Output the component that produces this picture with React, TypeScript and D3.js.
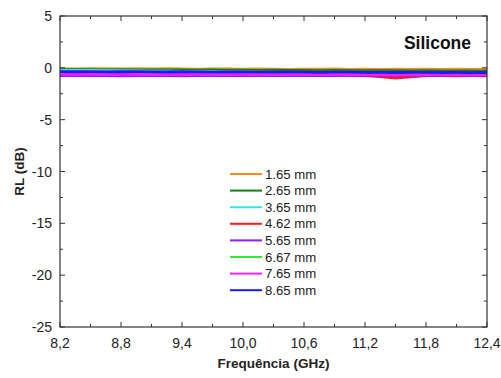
import React, { useEffect, useRef } from 'react';
import * as d3 from 'd3';

// frequency samples (GHz)
const freq = [8.2, 8.35, 8.5, 8.65, 8.8, 8.95, 9.1, 9.25, 9.4, 9.55, 9.7, 9.85, 10.0, 10.15, 10.3, 10.45, 10.6, 10.75, 10.9, 11.05, 11.2, 11.35, 11.5, 11.65, 11.8, 11.95, 12.1, 12.25, 12.4];

const labels = ['1.65 mm', '2.65 mm', '3.65 mm', '4.62 mm', '5.65 mm', '6.67 mm', '7.65 mm', '8.65 mm'];
const colors = ['#ff8c1a', '#1a7f1a', '#33e6e6', '#ff1a1a', '#8c1aff', '#33e633', '#ff1aff', '#1a1aff'];

const rl165 = [-0.08, -0.1, -0.07, -0.09, -0.1, -0.08, -0.11, -0.09, -0.1, -0.12, -0.1, -0.11, -0.13, -0.1, -0.12, -0.14, -0.12, -0.13, -0.11, -0.14, -0.12, -0.15, -0.13, -0.14, -0.12, -0.15, -0.13, -0.14, -0.12];
const rl265 = [-0.16, -0.18, -0.17, -0.19, -0.18, -0.2, -0.19, -0.21, -0.2, -0.22, -0.21, -0.23, -0.22, -0.24, -0.23, -0.25, -0.24, -0.26, -0.25, -0.27, -0.26, -0.28, -0.27, -0.29, -0.28, -0.3, -0.29, -0.3, -0.31];
const rl365 = [-0.22, -0.24, -0.25, -0.27, -0.28, -0.3, -0.31, -0.33, -0.34, -0.36, -0.37, -0.39, -0.4, -0.42, -0.43, -0.45, -0.46, -0.48, -0.49, -0.51, -0.53, -0.62, -0.78, -0.64, -0.58, -0.6, -0.62, -0.63, -0.65];
const rl462 = [-0.6, -0.61, -0.63, -0.62, -0.64, -0.65, -0.64, -0.66, -0.67, -0.66, -0.68, -0.69, -0.68, -0.7, -0.71, -0.7, -0.72, -0.71, -0.73, -0.74, -0.76, -0.85, -1.0, -0.86, -0.76, -0.75, -0.77, -0.76, -0.78];
const rl565 = [-0.74, -0.76, -0.73, -0.75, -0.77, -0.74, -0.76, -0.75, -0.77, -0.74, -0.76, -0.75, -0.74, -0.76, -0.73, -0.75, -0.74, -0.72, -0.74, -0.73, -0.71, -0.73, -0.72, -0.7, -0.72, -0.71, -0.7, -0.72, -0.7];
const rl667 = [-0.55, -0.56, -0.54, -0.57, -0.55, -0.56, -0.58, -0.56, -0.57, -0.55, -0.58, -0.57, -0.56, -0.58, -0.57, -0.59, -0.58, -0.56, -0.59, -0.58, -0.6, -0.59, -0.61, -0.6, -0.59, -0.61, -0.6, -0.62, -0.6];
const rl765 = [-0.62, -0.63, -0.61, -0.64, -0.62, -0.63, -0.65, -0.63, -0.64, -0.62, -0.65, -0.64, -0.63, -0.65, -0.64, -0.66, -0.65, -0.63, -0.66, -0.65, -0.64, -0.66, -0.65, -0.64, -0.66, -0.65, -0.64, -0.66, -0.65];
const rl865 = [-0.36, -0.38, -0.37, -0.39, -0.38, -0.37, -0.39, -0.4, -0.38, -0.39, -0.41, -0.4, -0.39, -0.41, -0.42, -0.4, -0.41, -0.43, -0.42, -0.41, -0.43, -0.44, -0.45, -0.43, -0.44, -0.45, -0.44, -0.46, -0.45];

const series = [rl165, rl265, rl365, rl462, rl565, rl667, rl765, rl865];

const xTicks = [8.2, 8.8, 9.4, 10.0, 10.6, 11.2, 11.8, 12.4];
const yTicks = [5, 0, -5, -10, -15, -20, -25];

const App: React.FC = () => {
  const svgRef = useRef<SVGSVGElement>(null);

  useEffect(() => {
    if (!svgRef.current) return;
    const root = d3.select(svgRef.current);
    root.selectAll('*').remove();

    const margin = { top: 16, right: 14, bottom: 51, left: 60 };
    const W = 501, H = 378;
    const width = W - margin.left - margin.right;
    const height = H - margin.top - margin.bottom;
    const font = '"Liberation Sans", Arial, sans-serif';

    const svg = root.append('g').attr('transform', `translate(${margin.left},${margin.top})`);

    const x = d3.scaleLinear().domain([8.2, 12.4]).range([0, width]);
    const y = d3.scaleLinear().domain([-25, 5]).range([height, 0]);

    // series
    const line = d3.line<number>()
      .x((_, i) => x(freq[i]))
      .y(d => y(d));

    series.forEach((s, i) => {
      svg.append('path')
        .datum(s)
        .attr('fill', 'none')
        .attr('stroke', colors[i])
        .attr('stroke-width', 2.8)
        .attr('d', line);
    });

    // frame
    svg.append('rect')
      .attr('width', width)
      .attr('height', height)
      .attr('fill', 'none')
      .attr('stroke', '#333')
      .attr('stroke-width', 1.2);

    const xMinor = d3.range(0, 15).map(i => 8.2 + i * 0.3);
    const yMinor = d3.range(0, 13).map(i => -25 + i * 2.5);

    // ticks on all four sides, pointing in
    xMinor.forEach((v, i) => {
      const len = i % 2 === 0 ? 5 : 3;
      svg.append('line').attr('x1', x(v)).attr('x2', x(v)).attr('y1', height).attr('y2', height - len).attr('stroke', '#333');
      svg.append('line').attr('x1', x(v)).attr('x2', x(v)).attr('y1', 0).attr('y2', len).attr('stroke', '#333');
    });
    yMinor.forEach((v, i) => {
      const len = i % 2 === 0 ? 5 : 3;
      svg.append('line').attr('y1', y(v)).attr('y2', y(v)).attr('x1', 0).attr('x2', len).attr('stroke', '#333');
      svg.append('line').attr('y1', y(v)).attr('y2', y(v)).attr('x1', width).attr('x2', width - len).attr('stroke', '#333');
    });

    svg.selectAll('.xl')
      .data(xTicks)
      .enter()
      .append('text')
      .attr('x', d => x(d))
      .attr('y', height + 21)
      .attr('text-anchor', 'middle')
      .attr('font-family', font)
      .attr('font-size', 14)
      .attr('fill', '#222')
      .text(d => d.toFixed(1).replace('.', ','));

    svg.selectAll('.yl')
      .data(yTicks)
      .enter()
      .append('text')
      .attr('x', -8)
      .attr('y', d => y(d) + 5)
      .attr('text-anchor', 'end')
      .attr('font-family', font)
      .attr('font-size', 14)
      .attr('fill', '#222')
      .text(d => String(d));

    // axis titles
    svg.append('text')
      .attr('x', width / 2)
      .attr('y', height + 41)
      .attr('text-anchor', 'middle')
      .attr('font-family', font)
      .attr('font-size', 13.5)
      .attr('font-weight', 'bold')
      .attr('fill', '#222')
      .text('Frequência (GHz)');

    svg.append('text')
      .attr('transform', `translate(${-36},${height / 2}) rotate(-90)`)
      .attr('text-anchor', 'middle')
      .attr('font-family', font)
      .attr('font-size', 13.5)
      .attr('font-weight', 'bold')
      .attr('fill', '#222')
      .text('RL (dB)');

    svg.append('text')
      .attr('x', width - 16)
      .attr('y', 33)
      .attr('text-anchor', 'end')
      .attr('font-family', font)
      .attr('font-size', 17.5)
      .attr('font-weight', 'bold')
      .attr('fill', '#111')
      .text('Silicone');

    // legend
    const legend = svg.append('g').attr('transform', `translate(${230 - margin.left},${174 - margin.top})`);
    labels.forEach((lab, i) => {
      const g = legend.append('g').attr('transform', `translate(0,${i * 16.6})`);
      g.append('line').attr('x1', 0).attr('x2', 32).attr('y1', 0).attr('y2', 0)
        .attr('stroke', colors[i]).attr('stroke-width', 2);
      g.append('text')
        .attr('x', 35)
        .attr('y', 4.5)
        .attr('font-family', font)
        .attr('font-size', 13.2)
        .attr('fill', '#222')
        .text(lab);
    });
  }, []);

  return (
    <div style={{ width: 501, height: 378, position: 'absolute', left: 0, top: 0, background: '#fff' }}>
      <svg ref={svgRef} width={501} height={378}></svg>
    </div>
  );
};

export default App;
